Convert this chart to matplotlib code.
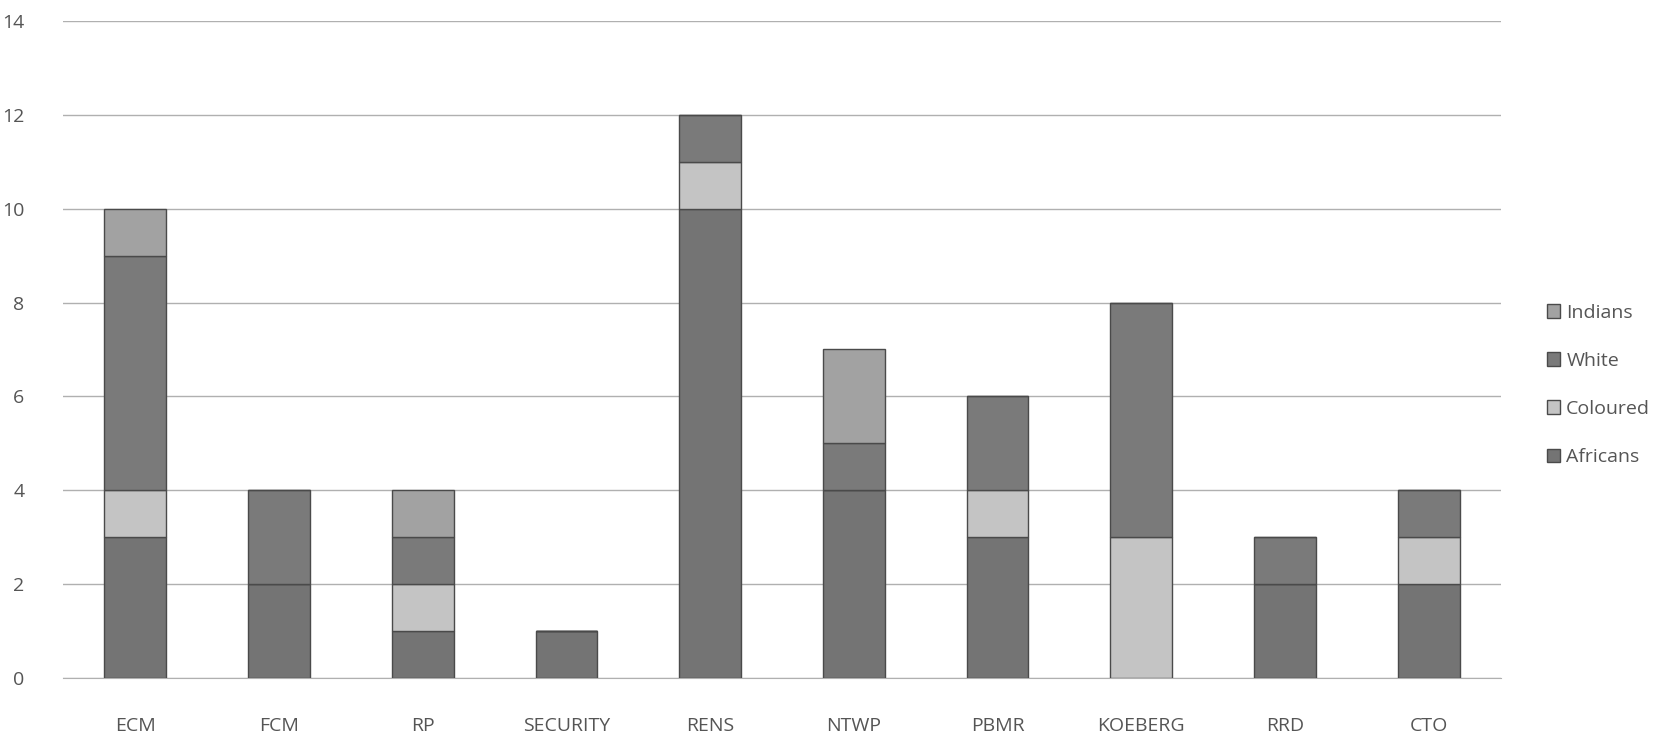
import matplotlib
matplotlib.use("Agg")
import matplotlib.pyplot as plt
import numpy as np

plt.rcParams['font.family'] = ['Open Sans', 'DejaVu Sans']

units = ["ECM", "FCM", "RP", "SECURITY", "RENS", "NTWP", "PBMR", "KOEBERG", "RRD", "CTO"]
africans = [3, 2, 1, 1, 10, 4, 3, 0, 2, 2]
coloured = [1, 0, 1, 0, 1, 0, 1, 3, 0, 1]
white = [5, 2, 1, 0, 1, 1, 2, 5, 1, 1]
indians = [1, 0, 1, 0, 0, 2, 0, 0, 0, 0]

series = [("Africans", africans, "#747474"),
          ("Coloured", coloured, "#c4c4c4"),
          ("White", white, "#7a7a7a"),
          ("Indians", indians, "#a2a2a2")]

fig = plt.figure(figsize=(16.71, 7.35), dpi=100)
ax = fig.add_axes([0.038, 0.078, 0.860, 0.893])

x = np.arange(len(units))
bottom = np.zeros(len(units))
handles = []
for name, vals, col in series:
    h = ax.bar(x, vals, 0.43, bottom=bottom, color=col, edgecolor="#4a4a4a",
               linewidth=1.0, label=name, zorder=3)
    handles.append(h)
    bottom += np.array(vals)

ax.set_ylim(0, 14)
ax.set_xlim(-0.5, len(units) - 0.5)
ax.set_yticks(range(0, 15, 2))
ax.set_xticks(x)
ax.set_xticklabels(units)
ax.yaxis.grid(True, color="#b0b0b0", linewidth=1.0, zorder=0)
ax.tick_params(axis="both", length=0, labelsize=14, colors="#555555")
ax.tick_params(axis="x", pad=28)
ax.tick_params(axis="y", pad=28)
for s in ["top", "right", "left"]:
    ax.spines[s].set_visible(False)
ax.spines["bottom"].set_color("#b0b0b0")

leg = ax.legend(handles[::-1], [s[0] for s in series][::-1], loc="center left",
                bbox_to_anchor=(1.02, 0.446), frameon=False, fontsize=14,
                handlelength=0.7, handleheight=0.7, handletextpad=0.3,
                labelspacing=1.55, labelcolor="#555555")

fig.savefig("out.png", dpi=100)
